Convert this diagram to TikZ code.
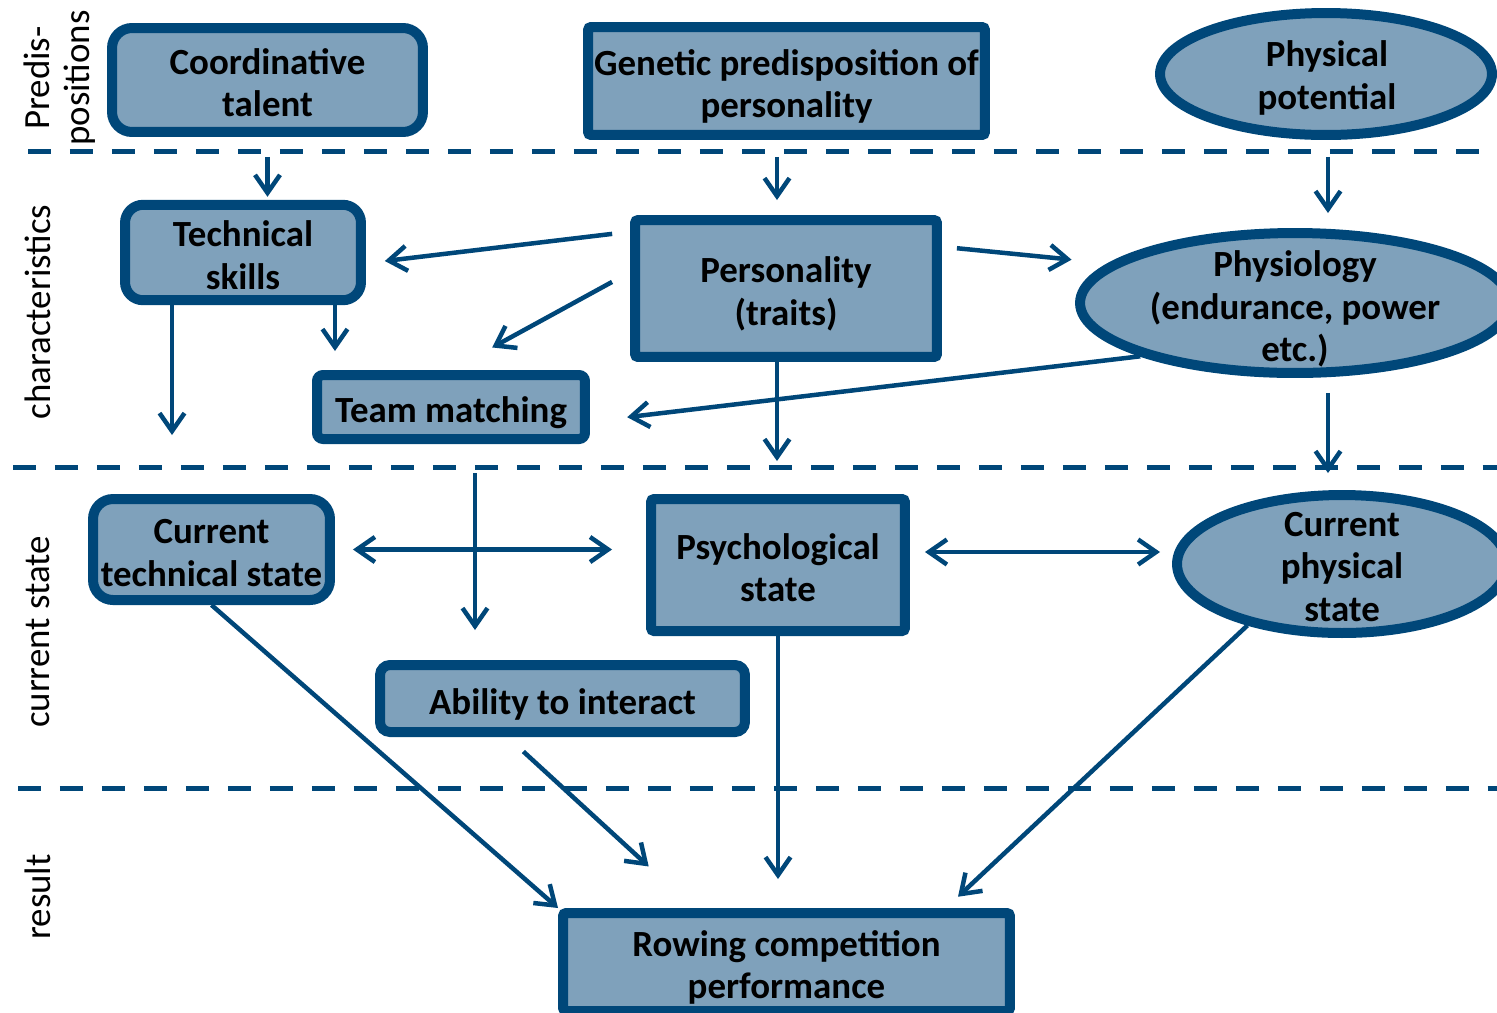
\documentclass[tikz,border=0pt]{standalone}
\usepackage{fontspec}
\setmainfont{Carlito}
\usetikzlibrary{shapes.geometric,arrows.meta}
\definecolor{boxfill}{RGB}{127,161,187}
\definecolor{boxline}{RGB}{0,71,121}
\newcommand{\tstr}{\rule{0pt}{24pt}}
\newcommand{\bstr}{\rule[-6.3pt]{0pt}{0pt}}

\begin{document}
\begin{tikzpicture}[x=0.02cm,y=-0.02cm,line width=0.09cm,
  >={Straight Barb[length=0.36cm,width=0.5cm]},
  every node/.style={font=\fontsize{21}{24}\selectfont},
  box/.style={draw=boxline,fill=boxfill,line width=0.2cm,inner sep=0pt,align=center,
    font=\fontsize{21}{24}\selectfont\bfseries,rounded corners=0.06cm},
  rbox/.style={box,rounded corners=#1},
  oval/.style={draw=boxline,fill=boxfill,line width=0.2cm,ellipse,inner sep=0pt},
  ovaltext/.style={align=center,font=\fontsize{21}{24}\selectfont\bfseries},
  side/.style={rotate=90,align=center},
  level/.style={draw=boxline,line width=0.1cm,dash pattern=on 0.46cm off 0.38cm},
  link/.style={draw=boxline,->}]
\useasboundingbox (0,0) rectangle (1497,1012);
\clip (0,0) rectangle (1497,1012);

% levels
\draw [level] (28,151) to (1497,151);
\draw [level] (13,467) to (1497,467);
\draw [level] (18,788) to (1497,788);
\node [side,font=\fontsize{21}{22.7}\selectfont] (lpre) at (60,78) {Predis-\\positions};
\node [side] (lchar) at (38,312) {characteristics};
\node [side] (lcur) at (38,632) {current state};
\node [side] (lres) at (38,897) {result};

% predispositions
\node [rbox=0.4cm,minimum width=6.22cm,minimum height=2.08cm] (coord) at (267.5,80) {\tstr Coordinative\\talent\bstr};
\node [box,minimum width=7.94cm,minimum height=2.16cm] (genet) at (786.5,81) {\tstr Genetic predisposition of\\personality\bstr};
\node [oval,minimum width=6.64cm,minimum height=2.44cm] (physpot) at (1326,74) {};
\node [ovaltext] (physpottxt) at (1327,78) {Physical\\potential};

% characteristics
\node [rbox=0.36cm,minimum width=4.72cm,minimum height=1.78cm] (tech) at (243,252.5) {\tstr Technical\\skills\bstr};
\node [box,minimum width=6.04cm,minimum height=2.74cm] (pers) at (786,288.5) {\tstr Personality\\(traits)\bstr};
\node [oval,minimum width=8.6cm,minimum height=2.8cm] (physio) at (1295,303) {};
\node [ovaltext] (physiotxt) at (1295,309) {Physiology\\(endurance, power\\etc.)};
\node [rbox=0.12cm,minimum width=5.36cm,minimum height=1.28cm] (team) at (451,407) {\tstr Team matching\bstr};

% current state
\node [rbox=0.4cm,minimum width=4.74cm,minimum height=2.02cm] (curtech) at (211.5,549.5) {\tstr Current\\technical state\bstr};
\node [box,minimum width=5.08cm,minimum height=2.64cm] (psych) at (778,565) {\tstr Psychological\\state\bstr};
\node [oval,minimum width=6.6cm,minimum height=2.76cm] (curphys) at (1342,564) {};
\node [ovaltext] (curphystxt) at (1342,567) {Current\\physical\\state};
\node [rbox=0.2cm,minimum width=7.3cm,minimum height=1.34cm] (abil) at (562.5,698.5) {\tstr Ability to interact\bstr};

% result
\node [box,minimum width=8.94cm,minimum height=1.96cm] (rowing) at (786.5,962) {\tstr Rowing competition\\performance\bstr};

% arrows
\draw [link,shorten <=0.4cm,shorten >=0.06cm] (coord.south) to (coord.south |- tech.north);
\draw [link,shorten <=0.34cm,shorten >=0.3cm] ([xshift=-0.19cm]genet.south) to ([xshift=-0.19cm]genet.south |- pers.north);
\draw [link,shorten <=0.34cm,shorten >=0.3cm] ([xshift=0.04cm]physpot.south) to ([xshift=0.04cm]physpot.south |- physio.north);

\draw [link,shorten <=0.36cm,shorten >=0.38cm] (pers.160) to (tech.-5);
\draw [link,shorten <=0.41cm,shorten >=0.94cm] (pers.174) to (team.north);
\draw [link,shorten <=0.3cm,shorten >=0.74cm] (pers.15) to (physio.168);
\draw [link,shorten >=0.66cm] ([xshift=-0.18cm]pers.south) to ([xshift=-0.18cm]pers.south |- psych.north);

\draw [link,shorten >=1.18cm] ([xshift=-1.42cm]tech.south) to ([xshift=-1.42cm]tech.south |- curtech.north);
\draw [link,shorten >=0.38cm] ([xshift=1.84cm]tech.south) to ([xshift=1.84cm]tech.south |- team.north);

\draw [link,shorten >=0.75cm] (physio.199) to (team.-6);
\draw [link,shorten <=0.3cm,shorten >=0.34cm] ([xshift=0.66cm]physio.south) to ([xshift=0.66cm]physio.south |- curphys.north);

\draw [link,shorten <=0.58cm,shorten >=0.6cm] ([xshift=0.48cm]team.south) to ([xshift=0.48cm]team.south |- abil.north);

\draw [link,<->,shorten <=0.36cm,shorten >=0.68cm] (curtech.east) to (curtech.east -| psych.west);
\draw [link,<->,shorten <=0.3cm,shorten >=0.24cm] ([yshift=0.26cm]psych.east) to ([yshift=0.26cm]psych.east -| curphys.west);

\draw [link] (curtech.south) to (rowing.north west);
\draw [link,shorten <=0.43cm,shorten >=1.23cm] ([xshift=-1.1cm]abil.south) to ([xshift=-1.85cm]rowing.north);
\draw [link,shorten >=0.58cm] (psych.south) to (psych.south |- rowing.north);
\draw [link,shorten >=0.33cm] (curphys.213) to ([xshift=-1.38cm]rowing.north east);
\end{tikzpicture}
\end{document}
